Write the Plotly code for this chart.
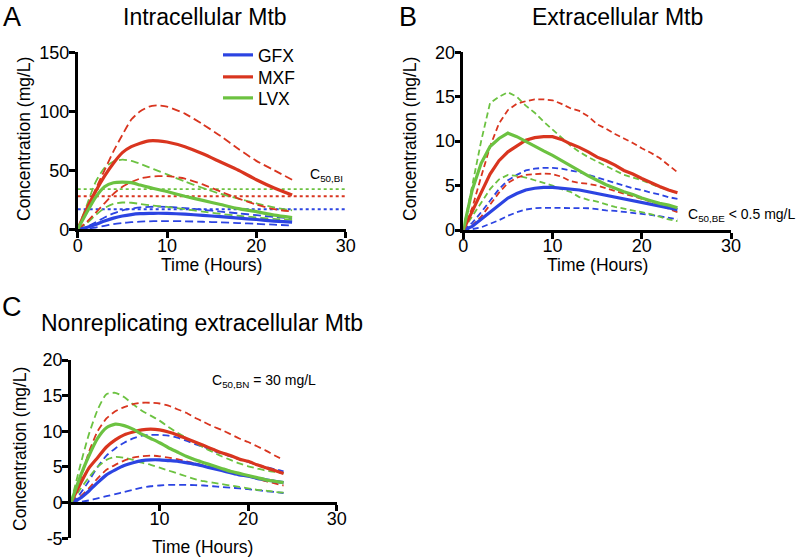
import plotly.graph_objects as go

W, H = 800, 558

# ---------------- data ----------------
drugs = ["GFX", "MXF", "LVX"]
c50_a = {"GFX": 17, "MXF": 28, "LVX": 34}

hours_a = [0, 1, 2, 3, 4, 5, 6, 7, 8, 9, 10, 12, 14, 16, 18, 20, 22, 24]
a_gfx_hi = [0, 2, 6, 10, 13.5, 16, 17.5, 18.5, 19, 19.2, 19, 18, 16.5, 15, 13.5, 12, 10.5, 9]
a_gfx_mid = [0, 1.5, 4, 7, 9.5, 11.3, 12.5, 13.2, 13.5, 13.6, 13.5, 12.8, 11.8, 10.7, 9.5, 8.3, 7, 6]
a_gfx_lo = [0, 0.5, 1.5, 3, 4.3, 5.3, 6, 6.5, 6.8, 7, 7, 6.8, 6.4, 5.9, 5.3, 4.6, 3.9, 3.2]
a_mxf_hi = [0, 17, 34, 50, 66, 80, 93, 100, 104, 105, 104, 98, 89, 79, 68, 58, 50, 42]
a_mxf_mid = [0, 17, 32, 45, 56, 65, 70, 73, 75, 75, 74, 70, 64, 57, 50, 42, 35, 29]
a_mxf_lo = [0, 6, 14, 22, 30, 36, 40, 43, 44.5, 45, 45, 43, 38, 32, 26, 21, 17, 15]
a_lvx_hi = [0, 20, 40, 52, 57.5, 59, 58, 55.5, 52.5, 49.5, 46.5, 40.5, 35, 30, 26, 22, 18.5, 16]
a_lvx_mid = [0, 14, 27, 36, 39.5, 40, 39.5, 37.5, 35.5, 33.7, 32, 28, 24.5, 21, 17.5, 15, 12, 10]
a_lvx_lo = [0, 5, 12, 18, 21.5, 22.7, 22.5, 21.5, 20.5, 19.7, 19, 17, 15, 13, 11.5, 10, 8.8, 8]

hours_b = list(range(0, 25))
b_gfx_hi = [0, 0.8, 2, 3.3, 4.6, 5.6, 6.2, 6.7, 6.9, 7, 7, 6.9, 6.7, 6.5, 6.2, 5.9, 5.6, 5.3, 5, 4.7, 4.5, 4.2, 4, 3.7, 3.5]
b_gfx_mid = [0, 0.4, 1.2, 2, 2.9, 3.6, 4.1, 4.5, 4.7, 4.8, 4.8, 4.7, 4.6, 4.5, 4.3, 4.1, 3.9, 3.7, 3.5, 3.3, 3.1, 2.9, 2.7, 2.5, 2.3]
b_gfx_lo = [0, 0.1, 0.3, 0.7, 1.1, 1.6, 2, 2.3, 2.45, 2.5, 2.5, 2.5, 2.5, 2.5, 2.45, 2.35, 2.2, 2.15, 2.05, 1.95, 1.8, 1.7, 1.55, 1.35, 1.2]
b_mxf_hi = [0, 2.5, 6, 9.4, 12, 13.5, 14.2, 14.5, 14.7, 14.7, 14.6, 14.2, 13.7, 13.4, 12.8, 11.9, 11.4, 10.8, 10.3, 9.8, 9.2, 8.7, 8.1, 7.3, 6.5]
b_mxf_mid = [0, 2, 4.2, 6.3, 7.8, 8.8, 9.5, 10.1, 10.4, 10.5, 10.5, 10.2, 9.7, 9.3, 8.8, 8.2, 7.8, 7.3, 6.7, 6.3, 5.8, 5.3, 4.9, 4.5, 4.2]
b_mxf_lo = [0, 0.5, 1.5, 2.8, 4.2, 5.3, 5.9, 6.2, 6.3, 6.35, 6.3, 6, 5.5, 5.3, 5.2, 5, 4.7, 4.4, 4.1, 3.8, 3.5, 3.2, 2.8, 2.4, 2.0]
b_lvx_hi = [0, 5, 10, 14.3, 15, 15.5, 15, 14, 13.2, 12.2, 11.3, 10.4, 9.5, 8.8, 8.2, 7.7, 7.2, 6.7, 6.2, 5.9, 5.6, 5.2, 4.8, 4.5, 4.1]
b_lvx_mid = [0, 4.5, 7.5, 9.4, 10.3, 10.9, 10.5, 10, 9.4, 8.9, 8.4, 7.8, 7.2, 6.6, 6.1, 5.6, 5.1, 4.7, 4.3, 4, 3.6, 3.3, 3, 2.8, 2.5]
b_lvx_lo = [0, 1.5, 3, 4.6, 5.7, 6.2, 6.1, 5.9, 5.6, 5.3, 5, 4.6, 4.3, 3.7, 3.4, 3.2, 2.9, 2.6, 2.4, 2.2, 2.0, 1.8, 1.5, 1.2, 1.0]

hours_c = list(range(0, 25))
c_gfx_hi = [0, 1.2, 3, 5, 6.6, 7.6, 8.4, 9, 9.4, 9.5, 9.5, 9.4, 9.1, 8.7, 8.2, 7.8, 7.3, 6.9, 6.5, 6.1, 5.7, 5.3, 5, 4.7, 4.4]
c_gfx_mid = [0, 0.6, 1.6, 2.8, 3.9, 4.6, 5.2, 5.6, 5.9, 6, 6, 5.9, 5.8, 5.6, 5.4, 5.1, 4.8, 4.5, 4.2, 3.9, 3.7, 3.4, 3.2, 3, 2.8]
c_gfx_lo = [0, 0.1, 0.3, 0.6, 0.9, 1.2, 1.5, 1.8, 2.1, 2.3, 2.4, 2.5, 2.5, 2.5, 2.45, 2.4, 2.3, 2.2, 2.1, 2, 1.9, 1.75, 1.6, 1.5, 1.35]
c_mxf_hi = [0, 3, 7, 10, 11.8, 12.8, 13.4, 13.8, 14, 14, 13.9, 13.6, 13.1, 12.6, 11.9, 11.3, 10.7, 10.2, 9.6, 9, 8.5, 7.9, 7.3, 6.6, 6.0]
c_mxf_mid = [0, 2.5, 4.8, 6.3, 7.8, 8.8, 9.5, 9.9, 10.2, 10.3, 10.2, 9.9, 9.5, 9, 8.5, 8, 7.5, 7, 6.6, 6.1, 5.8, 5.3, 4.9, 4.5, 4.1]
c_mxf_lo = [0, 0.8, 2, 3.4, 4.6, 5.3, 5.9, 6.3, 6.5, 6.6, 6.5, 6.3, 6.1, 5.8, 5.5, 5.2, 4.9, 4.6, 4.3, 4, 3.7, 3.4, 3, 2.7, 2.4]
c_lvx_hi = [0, 5, 9.5, 13, 15.2, 15.4, 14.8, 13.8, 12.9, 12.2, 11.5, 10.6, 9.8, 9.1, 8.4, 7.7, 7.1, 6.5, 6, 5.5, 5.1, 4.8, 4.5, 4.3, 4.1]
c_lvx_mid = [0, 3.5, 6.5, 9, 10.5, 11, 10.8, 10.3, 9.6, 9, 8.4, 7.7, 7.1, 6.5, 6, 5.6, 5.2, 4.8, 4.4, 4.1, 3.8, 3.5, 3.2, 3, 2.8]
c_lvx_lo = [0, 1.8, 3.5, 5, 6, 6.4, 6.3, 6, 5.6, 5.3, 4.9, 4.5, 4.1, 3.7, 3.3, 3, 2.8, 2.6, 2.4, 2.2, 2.0, 1.8, 1.7, 1.5, 1.4]

x_ticks_ab = [0, 10, 20, 30]
x_ticks_c = [10, 20, 30]
y_ticks_a = [0, 50, 100, 150]
y_ticks_b = [0, 5, 10, 15, 20]
y_ticks_c = [-5, 0, 5, 10, 15, 20]
y_ticktext_c = ["-5", "0", "5", "10", "15", "20"]

# ---------------- style ----------------
COLORS = {"GFX": "#2c44e2", "MXF": "#d9351f", "LVX": "#6cc241"}
FONT = "Liberation Sans, Arial, Helvetica, sans-serif"
LEGEND_ID = {"GFX": "legend", "MXF": "legend2", "LVX": "legend3"}
LEGEND_ROW_Y = {"GFX": 55, "MXF": 77, "LVX": 98}

panels = {
    "A": dict(x=hours_a, shape="spline", xa="x", ya="y", dash="8px,4px",
              data={"GFX": (a_gfx_lo, a_gfx_mid, a_gfx_hi),
                    "MXF": (a_mxf_lo, a_mxf_mid, a_mxf_hi),
                    "LVX": (a_lvx_lo, a_lvx_mid, a_lvx_hi)}),
    "B": dict(x=hours_b, shape="linear", xa="x2", ya="y2", dash="6px,3.5px",
              data={"GFX": (b_gfx_lo, b_gfx_mid, b_gfx_hi),
                    "MXF": (b_mxf_lo, b_mxf_mid, b_mxf_hi),
                    "LVX": (b_lvx_lo, b_lvx_mid, b_lvx_hi)}),
    "C": dict(x=hours_c, shape="spline", xa="x3", ya="y3", dash="7px,4px",
              data={"GFX": (c_gfx_lo, c_gfx_mid, c_gfx_hi),
                    "MXF": (c_mxf_lo, c_mxf_mid, c_mxf_hi),
                    "LVX": (c_lvx_lo, c_lvx_mid, c_lvx_hi)}),
}

fig = go.Figure()

# C50 dotted reference lines in panel A
for d in ["LVX", "MXF", "GFX"]:
    fig.add_trace(go.Scatter(x=[0, 30], y=[c50_a[d], c50_a[d]], mode="lines",
                             line=dict(color=COLORS[d], width=1.8, dash="dot"),
                             xaxis="x", yaxis="y", showlegend=False, hoverinfo="skip"))

for key, p in panels.items():
    for d in ["GFX", "LVX", "MXF"]:
        lo, mid, hi = p["data"][d]
        for band in (lo, hi):
            fig.add_trace(go.Scatter(x=p["x"], y=band, mode="lines",
                                     line=dict(color=COLORS[d], width=1.8, dash=p["dash"],
                                               shape=p["shape"], smoothing=0.6),
                                     xaxis=p["xa"], yaxis=p["ya"], showlegend=False))
    for d in ["GFX", "MXF", "LVX"]:
        lo, mid, hi = p["data"][d]
        fig.add_trace(go.Scatter(x=p["x"], y=mid, mode="lines", name=d,
                                 line=dict(color=COLORS[d], width=3.2,
                                           shape=p["shape"], smoothing=0.6),
                                 xaxis=p["xa"], yaxis=p["ya"],
                                 showlegend=(key == "A"), legend=LEGEND_ID[d]))


def px_x(v):
    return v / W


def px_y(v):
    return 1 - v / H


axis_common = dict(showgrid=False, zeroline=False, showline=True, linecolor="black",
                   linewidth=2.5, ticks="outside", ticklen=6, tickwidth=2.5,
                   tickcolor="black", automargin=False,
                   tickfont=dict(family=FONT, size=18, color="black"))
xaxis_common = dict(axis_common, ticklabelstandoff=-8)
yaxis_common = dict(axis_common, ticklabelstandoff=-4)

legend_style = dict(xanchor="left", yanchor="middle",
                    font=dict(family=FONT, size=17.5, color="black"),
                    bgcolor="rgba(0,0,0,0)", itemwidth=30)

fig.update_layout(
    width=W, height=H,
    margin=dict(l=0, r=0, t=0, b=0, autoexpand=False),
    paper_bgcolor="white", plot_bgcolor="white",
    font=dict(family=FONT, color="black"),
    xaxis=dict(domain=[px_x(77.7), px_x(345.7)], range=[0, 30], tickvals=x_ticks_ab,
               anchor="y", **xaxis_common),
    yaxis=dict(domain=[px_y(229.3), px_y(52.3)], range=[0, 150], tickvals=y_ticks_a,
               anchor="x", **yaxis_common),
    xaxis2=dict(domain=[px_x(463.3), px_x(731)], range=[0, 30], tickvals=x_ticks_ab,
                anchor="y2", **xaxis_common),
    yaxis2=dict(domain=[px_y(230), px_y(52.3)], range=[0, 20], tickvals=y_ticks_b,
                anchor="x2", **yaxis_common),
    xaxis3=dict(domain=[px_x(71), px_x(336.7)], range=[0, 30], tickvals=x_ticks_c,
                anchor="free", position=px_y(503.3), **xaxis_common),
    yaxis3=dict(domain=[px_y(538.3), px_y(360)], range=[-5, 20], tickvals=y_ticks_c,
                ticktext=y_ticktext_c, anchor="x3", **yaxis_common),
    legend=dict(x=px_x(218), y=px_y(LEGEND_ROW_Y["GFX"]), **legend_style),
    legend2=dict(x=px_x(218), y=px_y(LEGEND_ROW_Y["MXF"]), **legend_style),
    legend3=dict(x=px_x(218), y=px_y(LEGEND_ROW_Y["LVX"]), **legend_style),
    showlegend=True,
)

annots = [
    # panel letters and titles
    dict(x=12, y=17, text="A", size=27),
    dict(x=205, y=17, text="Intracellular Mtb", size=23),
    dict(x=408, y=17, text="B", size=27),
    dict(x=617, y=17, text="Extracellular Mtb", size=23),
    dict(x=12, y=307, text="C", size=27),
    dict(x=202, y=323, text="Nonreplicating extracellular Mtb", size=23),
    # axis titles
    dict(x=211, y=265, text="Time (Hours)", size=17.5),
    dict(x=597, y=265, text="Time (Hours)", size=17.5),
    dict(x=203, y=547, text="Time (Hours)", size=17.5),
    # C50 labels
    dict(x=326, y=175, text="C<sub>50,BI</sub>", size=14),
    dict(x=741, y=215, text="C<sub>50,BE</sub> < 0.5 mg/L", size=14),
    dict(x=264, y=381, text="C<sub>50,BN</sub> = 30 mg/L", size=14),
]
for a in annots:
    fig.add_annotation(x=px_x(a["x"]), y=px_y(a["y"]), xref="paper", yref="paper",
                       text=a["text"], showarrow=False, xanchor="center", yanchor="middle",
                       font=dict(family=FONT, size=a["size"], color="black"))

for (x, y) in [(24, 139), (410, 139), (20, 449)]:
    fig.add_annotation(x=px_x(x), y=px_y(y), xref="paper", yref="paper",
                       text="Concentration (mg/L)", textangle=-90, showarrow=False,
                       xanchor="center", yanchor="middle",
                       font=dict(family=FONT, size=17.5, color="black"))

fig.write_html("out.html", config={"displayModeBar": False},
               post_script="document.body.style.margin='0px';")
